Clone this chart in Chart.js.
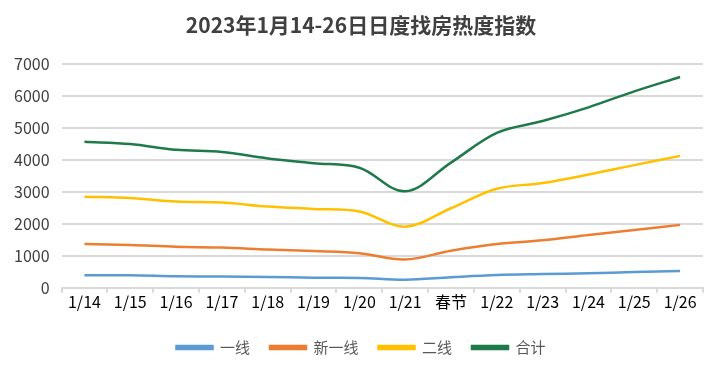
<!DOCTYPE html>
<html>
<head>
<meta charset="utf-8">
<script src="https://cdn.jsdelivr.net/npm/chart.js@4"></script>
<style>
  html, body { margin: 0; padding: 0; background: #fff; }
  .wrap { width: 722px; height: 370px; }
</style>
</head>
<body>
<div class="wrap"><canvas class="myChart" width="722" height="370"></canvas></div>
<script>
const days = ["1/14", "1/15", "1/16", "1/17", "1/18", "1/19", "1/20", "1/21", "春节", "1/22", "1/23", "1/24", "1/25", "1/26"];
const tier1 = [390, 390, 360, 350, 340, 315, 310, 250, 330, 400, 430, 455, 495, 525];
const newTier1 = [1370, 1340, 1285, 1260, 1200, 1150, 1085, 885, 1160, 1370, 1485, 1650, 1810, 1970];
const tier2 = [2850, 2810, 2700, 2670, 2545, 2470, 2390, 1915, 2490, 3100, 3280, 3545, 3840, 4130];
const total = [4570, 4500, 4320, 4250, 4050, 3900, 3760, 3020, 3920, 4850, 5220, 5650, 6150, 6600];
const yTicks = [0, 1000, 2000, 3000, 4000, 5000, 6000, 7000];

const font = "'Noto Sans CJK SC', 'Noto Sans', sans-serif";

function line(label, data, color) {
  return {
    label: label,
    data: data,
    borderColor: color,
    backgroundColor: color,
    borderWidth: 2.5,
    pointRadius: 0,
    tension: 0.35,
    fill: false,
  };
}

const ctx = document.querySelector(".myChart");
new Chart(ctx, {
  type: "line",
  data: {
    labels: days,
    datasets: [
      line("一线", tier1, "#5b9bd5"),
      line("新一线", newTier1, "#ed7d31"),
      line("二线", tier2, "#ffc000"),
      line("合计", total, "#1f7a4a"),
    ],
  },
  options: {
    responsive: false,
    animation: false,
    layout: { padding: { left: 10, right: 10, top: 4, bottom: 5 } },
    plugins: {
      title: {
        display: true,
        text: "2023年1月14-26日日度找房热度指数",
        color: "#404040",
        font: { family: font, size: 21, weight: "bold" },
        padding: { top: 8, bottom: 27 },
      },
      legend: {
        position: "bottom",
        labels: {
          color: "#595959",
          font: { family: font, size: 15 },
          boxWidth: 36,
          boxHeight: 3,
          padding: 20,
        },
      },
      tooltip: { enabled: false },
    },
    scales: {
      x: {
        offset: true,
        afterFit: (s) => { s.height += 8; },
        grid: {
          offset: true,
          drawOnChartArea: false,
          drawTicks: true,
          tickLength: 5,
          color: "#d9d9d9",
          lineWidth: 2,
        },
        border: { color: "#d9d9d9", width: 2 },
        ticks: {
          color: "#000",
          font: { family: font, size: 16 },
          maxRotation: 0,
          autoSkip: false,
          padding: 0,
        },
      },
      y: {
        min: 0,
        max: 7000,
        afterFit: (s) => { s.width -= 8; },
        afterBuildTicks: (axis) => {
          axis.ticks = yTicks.map((v) => ({ value: v }));
        },
        grid: { color: "#d9d9d9", lineWidth: 2, drawTicks: false },
        border: { display: false },
        ticks: {
          color: "#404040",
          font: { family: font, size: 16 },
          padding: 12,
          callback: (v) => String(v),
        },
      },
      // empty right strip so the title stays centred on the page
      yPad: {
        position: "right",
        afterFit: (s) => { s.width = 9; },
        grid: { display: false },
        border: { display: false },
        ticks: { display: false },
      },
    },
  },
});
</script>
</body>
</html>
